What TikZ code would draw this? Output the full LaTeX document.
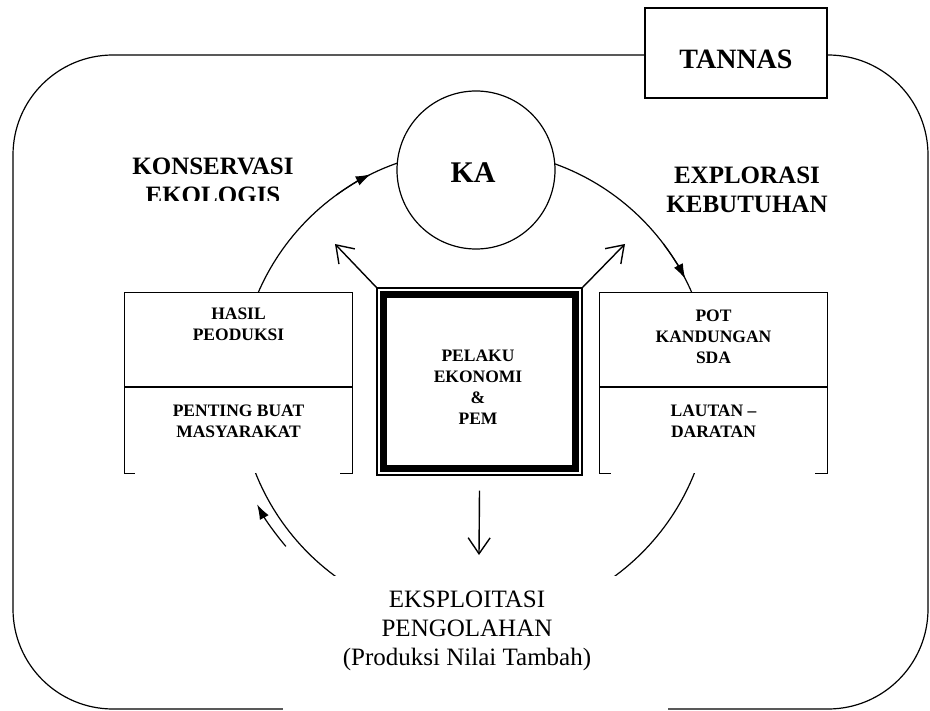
\documentclass[tikz,border=0pt]{standalone}
\usepackage{fontspec}
\setmainfont{Liberation Serif}
\usetikzlibrary{arrows.meta}
\begin{document}
\begin{tikzpicture}[x=1pt,y=-1pt,
  line/.style={line width=1.2pt},
  boxtxt/.style={font=\fontsize{17.5}{21}\selectfont\bfseries, align=center, anchor=north, inner sep=0pt},
  bigtxt/.style={font=\fontsize{25}{29}\selectfont\bfseries, align=center, anchor=north, inner sep=0pt},
  openarrow/.style={line width=1.4pt, -{Straight Barb[length=16pt,width=22pt,line width=1.4pt]}},
  arcarrow/.style={line width=1.2pt, -{Latex[length=15pt,width=10pt]}},
  cell/.style={fill=white, draw=none, minimum width=227pt, minimum height=180pt, inner sep=0pt}
]
\useasboundingbox (0,0) rectangle (930,711);
\fill[white] (0,0) rectangle (930,711);

% outer frame
\draw[line, rounded corners=100pt] (13,55) rectangle (928,709);

% big cycle circle
\coordinate (c) at (475,386);
\draw[line] (c) circle[radius=236];
\draw[arcarrow] ([shift={(234:236)}]c) arc[start angle=234, end angle=243.8, radius=236];
\draw[arcarrow] ([shift={(323:236)}]c) arc[start angle=323, end angle=333, radius=236];
\draw[arcarrow] ([shift={(139.7:248)}]c) arc[start angle=139.7, end angle=151.5, radius=248];

% left box
\node[cell] (lbox) at (238.5,383) {};
\draw[line] ([xshift=10pt]lbox.south west) -- (lbox.south west) -- (lbox.north west) -- (lbox.north east) -- (lbox.south east) -- ([xshift=-12pt]lbox.south east);
\draw[line] (lbox.west |- 0,387) -- (lbox.east |- 0,387);
\node[boxtxt] (lt) at (238.5,308) {HASIL\\PEODUKSI};
\node[boxtxt] (lb) at (238.5,405) {PENTING BUAT\\MASYARAKAT};

% right box
\node[cell] (rbox) at (713.5,383) {};
\draw[line] ([xshift=11pt]rbox.south west) -- (rbox.south west) -- (rbox.north west) -- (rbox.north east) -- (rbox.south east) -- ([xshift=-12pt]rbox.south east);
\draw[line] (rbox.west |- 0,387) -- (rbox.east |- 0,387);
\node[boxtxt] (rt) at (713.5,310) {POT\\KANDUNGAN\\SDA};
\node[boxtxt] (rb) at (713.5,405) {LAUTAN --\\DARATAN};

% centre box
\node[draw, line width=1.2pt, fill=white, minimum width=205pt, minimum height=187pt, inner sep=0pt] (cbox) at (479.5,381.5) {};
\draw[line width=7pt] ([xshift=7.5pt,yshift=-7.5pt]cbox.north west) rectangle ([xshift=-7.5pt,yshift=7.5pt]cbox.south east);
\node[boxtxt] (ctext) at (478,350) {PELAKU\\EKONOMI\\\&\\PEM};

% KA circle
\node[circle, draw, line width=1.2pt, fill=white, minimum size=158pt, inner sep=0pt, font=\fontsize{30}{30}\selectfont\bfseries] (ka) at (476,170) {\raisebox{-3pt}[\height][\depth]{\makebox[0pt]{\hspace*{-6pt}KA}}};

% TANNAS
\node[draw, line width=1.4pt, fill=white, minimum width=182pt, minimum height=90pt, inner sep=0pt, font=\fontsize{28}{28}\selectfont\bfseries] (tannas) at (736,53) {\raisebox{-6pt}[\height][\depth]{TANNAS}};

% labels
\begin{scope}
\clip (100,140) rectangle (330,200.5);
\node[bigtxt] (kons) at (213,158) {KONSERVASI\\EKOLOGIS};
\end{scope}
\node[bigtxt] (expl) at (747,167) {EXPLORASI\\KEBUTUHAN};

% arrows from centre box
\coordinate (nwtip) at (335,244);
\coordinate (netip) at (625,244);
\coordinate (downtip) at (479,555);
\draw[openarrow] (cbox.north west) -- (nwtip);
\draw[openarrow] (cbox.north east) -- (netip);
\draw[openarrow] ([yshift=-15pt]cbox.south) -- (downtip);

% bottom text area
\fill[white] (283,576) rectangle (668,712);
\node[font=\fontsize{25}{29}\selectfont, align=center, anchor=north, inner sep=0pt] (expo) at (467,591) {EKSPLOITASI\\PENGOLAHAN\\(Produksi Nilai Tambah)};
\end{tikzpicture}
\end{document}
